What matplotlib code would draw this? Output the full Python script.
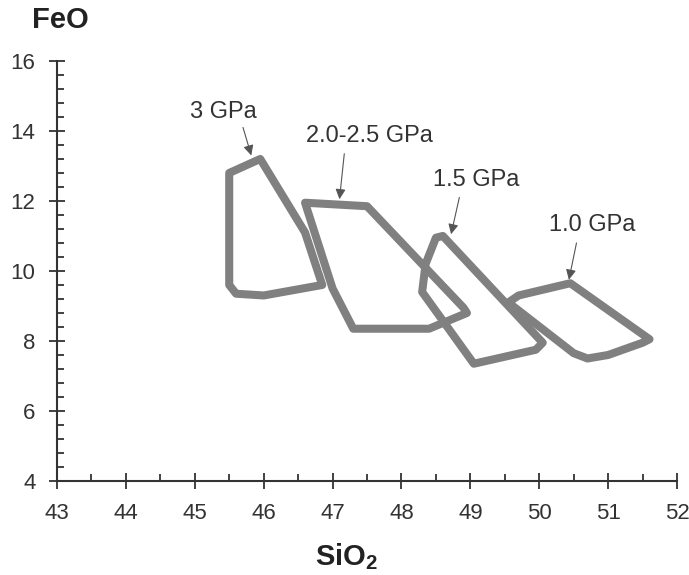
import matplotlib.pyplot as plt
from matplotlib.ticker import MultipleLocator

plt.rcParams['font.family'] = ['Liberation Sans', 'DejaVu Sans']

# polygon outlines (SiO2, FeO)
gpa3_x = [45.5, 45.95, 46.6, 46.85, 46.0, 45.6, 45.5]
gpa3_y = [12.8, 13.2, 11.1, 9.6, 9.3, 9.35, 9.6]

gpa25_x = [46.6, 47.5, 48.9, 48.95, 48.4, 47.3, 47.0]
gpa25_y = [11.95, 11.85, 8.95, 8.8, 8.35, 8.35, 9.5]

gpa15_x = [48.5, 48.6, 50.05, 49.95, 49.05, 48.3, 48.35]
gpa15_y = [10.95, 11.0, 7.95, 7.75, 7.35, 9.4, 10.2]

gpa10_x = [50.45, 51.6, 51.5, 51.0, 50.7, 50.5, 49.55, 49.7]
gpa10_y = [9.65, 8.05, 7.95, 7.6, 7.5, 7.65, 9.1, 9.3]

labels = ['3 GPa', '2.0-2.5 GPa', '1.5 GPa', '1.0 GPa']
label_xy = [(45.42, 14.54), (47.54, 13.85), (49.09, 12.6), (50.77, 11.3)]
arrow_tip = [(45.82, 13.3), (47.1, 12.05), (48.72, 11.05), (50.43, 9.75)]
arrow_start = [(45.7, 14.1), (47.17, 13.35), (48.84, 12.1), (50.54, 10.8)]

fig = plt.figure(figsize=(6.89, 5.75), dpi=100)
ax = fig.add_axes([0.0827, 0.1635, 0.9, 0.7305])

for xs, ys in [(gpa3_x, gpa3_y), (gpa25_x, gpa25_y), (gpa15_x, gpa15_y), (gpa10_x, gpa10_y)]:
    ax.fill(xs, ys, facecolor='none', edgecolor='#808080', lw=5.8, joinstyle='round')

for lab, (tx, ty), tip, st in zip(labels, label_xy, arrow_tip, arrow_start):
    ax.text(tx, ty, lab, ha='center', va='center', fontsize=17, color='#333333')
    ax.annotate('', xy=tip, xytext=st,
                arrowprops=dict(arrowstyle='-|>', color='#555555', lw=0.8,
                                mutation_scale=15, shrinkA=0, shrinkB=0))

ax.set_xlim(43, 52)
ax.set_ylim(4, 16)
ax.spines['top'].set_visible(False)
ax.spines['right'].set_visible(False)
for s in ['left', 'bottom']:
    ax.spines[s].set_linewidth(1.5)
    ax.spines[s].set_color('#333333')

ax.xaxis.set_major_locator(MultipleLocator(1))
ax.xaxis.set_minor_locator(MultipleLocator(0.5))
ax.yaxis.set_major_locator(MultipleLocator(2))
ax.yaxis.set_minor_locator(MultipleLocator(0.4))
ax.tick_params(which='major', direction='inout', length=11, width=1.3, color='#333333',
               labelsize=16, labelcolor='#333333', pad=10)
ax.tick_params(which='minor', direction='in', length=5, width=1.3, color='#333333')

fig.text(0.087, 0.965, 'FeO', ha='center', va='center', fontsize=21, fontweight='bold',
         color='#222222')
fig.text(0.503, 0.0174, r'SiO$_\mathregular{2}$', ha='center', va='baseline', fontsize=21,
         fontweight='bold', color='#222222')

fig.savefig('out.png', dpi=100)
